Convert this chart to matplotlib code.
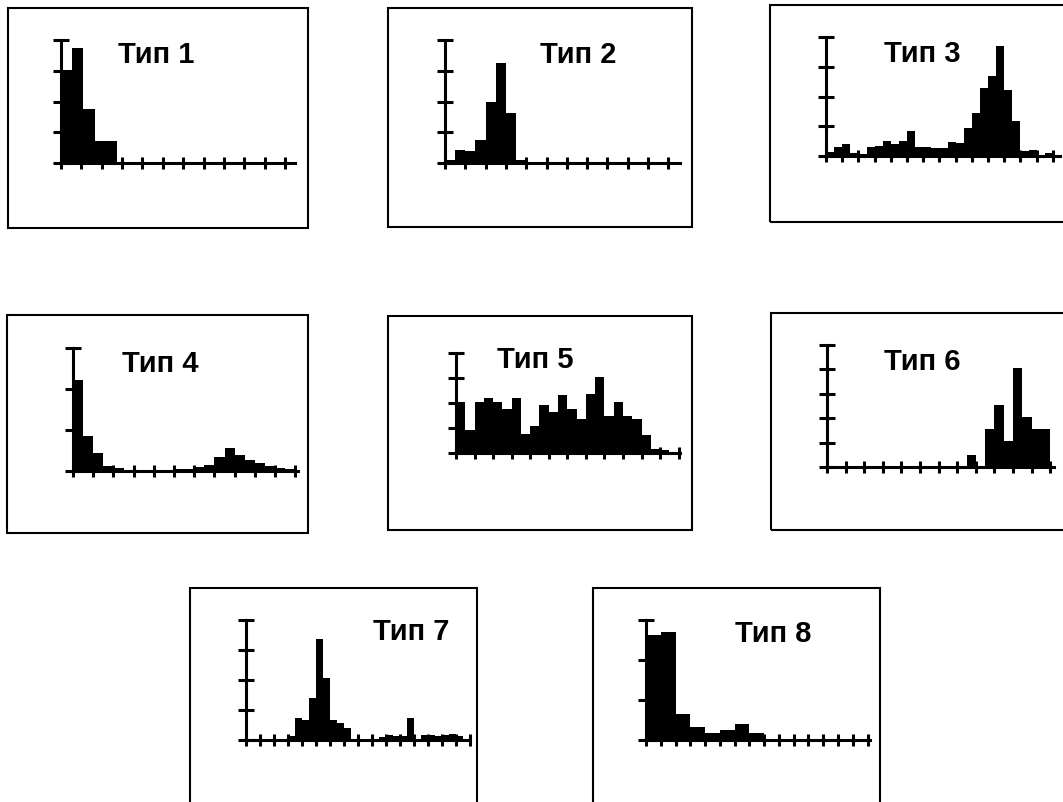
import matplotlib
matplotlib.use('Agg')
from matplotlib import pyplot as plt
from matplotlib.patches import Rectangle
import numpy as np

W, H = 1063, 802

labels = ['Тип 1', 'Тип 2', 'Тип 3', 'Тип 4', 'Тип 5', 'Тип 6', 'Тип 7', 'Тип 8']

# bar heights, in units of the y tick step
h1 = [3.03, 3.73, 1.75, 0.70, 0.70]
h2 = [0.11, 0.43, 0.38, 0.76, 1.97, 3.24, 1.62, 0.09]
h3 = [0.15, 0.31, 0.42, 0.09, 0.07, 0.29, 0.35, 0.50, 0.42, 0.50, 0.84, 0.29, 0.29, 0.27,
      0.27, 0.48, 0.45, 0.93, 1.45, 2.29, 2.68, 3.70, 2.21, 1.18, 0.17, 0.20, 0.05, 0.10]
h4 = [2.23, 0.85, 0.45, 0.12, 0.07, 0.03, 0.02, 0.02, 0.02, 0.03, 0.04, 0.05, 0.10, 0.15,
      0.34, 0.57, 0.38, 0.26, 0.20, 0.13, 0.07, 0.04]
h5 = [2.05, 0.93, 2.05, 2.21, 2.05, 1.76, 2.19, 0.75, 1.06, 1.92, 1.62, 2.32, 1.76, 1.36,
      2.34, 3.02, 1.48, 2.03, 1.48, 1.36, 0.73, 0.15, 0.13, 0.0]
h6 = [0, 0, 0, 0, 0, 0, 0, 0, 0, 0, 0, 0, 0, 0, 0, 0.5, 0.0, 1.55, 2.56, 1.05, 4.07, 2.05,
      1.55, 1.55]
h7 = [0, 0, 0, 0, 0.02, 0.02, 0.14, 0.74, 0.67, 1.41, 3.37, 2.06, 0.67, 0.56, 0.39, 0.03,
      0.02, 0.02, 0.02, 0.10, 0.17, 0.14, 0.14, 0.72, 0.05, 0.18, 0.18, 0.12, 0.18, 0.20,
      0.14, 0.0]
h8 = [2.63, 2.69, 0.64, 0.32, 0.18, 0.25, 0.39, 0.18]
heights = [h1, h2, h3, h4, h5, h6, h7, h8]

binw = [0.55, 0.5, 0.5, 0.5, 0.5, 0.5, 0.5, 1.0]   # bin width in x tick steps
nxt = [12, 12, 15, 12, 13, 13, 17, 16]            # x ticks
nyt = [4, 4, 4, 3, 4, 5, 4, 3]                    # y tick intervals

# layout, pixels: frame (l,t,r,b); axes (x0, top, base, xend, tick step); title (x, baseline)
frames = [(8, 8, 308, 228), (388, 8, 692, 227), (770, 5, 1080, 222), (7, 315, 308, 533),
          (388, 316, 692, 530), (771, 313, 1080, 530), (190, 588, 477, 820), (593, 588, 880, 820)]
axpos = [(61, 40, 163, 295, 20.36), (445, 40, 163, 680, 20.3), (826, 37, 156, 1060, 16.2),
         (73, 348, 471, 298, 20.2), (456, 353, 453, 680, 18.55), (827, 345, 467, 1054, 18.6),
         (246, 620, 740, 470, 14.0), (646, 620, 740, 870, 14.77)]
tpos = [(156, 63), (578, 63), (922, 62), (160, 372), (535, 368), (922, 370), (411, 640), (773, 642)]

fig = plt.figure(figsize=(W / 100, H / 100), dpi=100)

for i in range(8):
    l, t, r, b = frames[i]
    fig.add_artist(Rectangle((l / W, 1 - b / H), (r - l) / W, (b - t) / H, fill=False,
                             edgecolor='black', linewidth=1.5, transform=fig.transFigure))

    x0, top, base, xend, step = axpos[i]
    ax = fig.add_axes([x0 / W, 1 - base / H, (xend - x0) / W, (base - top) / H])
    ax.patch.set_visible(False)
    ax.set_xlim(0, (xend - x0) / step)
    ax.set_ylim(0, nyt[i])
    hh = heights[i]
    edges = np.arange(len(hh)) * binw[i]
    ax.bar(edges, hh, width=binw[i], align='edge', color='black', linewidth=0)
    for s in ['top', 'right']:
        ax.spines[s].set_visible(False)
    for s in ['left', 'bottom']:
        ax.spines[s].set_linewidth(2.2)
    ax.set_xticks(np.arange(nxt[i]))
    ax.set_yticks(np.arange(nyt[i] + 1))
    ax.tick_params(axis='x', direction='inout', length=8, width=2.2, labelbottom=False)
    ax.tick_params(axis='y', direction='inout', length=11, width=2.2, labelleft=False)

    tx, ty = tpos[i]
    fig.text(tx / W, 1 - ty / H, labels[i], ha='center', va='baseline', fontsize=21,
             fontweight='bold', family=['Liberation Sans', 'DejaVu Sans'])

fig.savefig('out.png', dpi=100, facecolor='white')
